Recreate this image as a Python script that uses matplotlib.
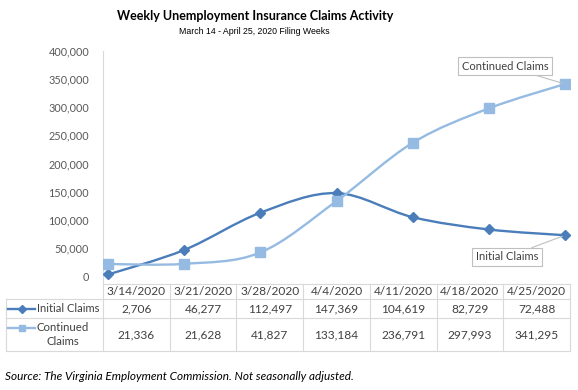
import numpy as np
import matplotlib
matplotlib.use("Agg")
import matplotlib.pyplot as plt
from matplotlib.path import Path
from matplotlib.patches import PathPatch
from matplotlib.lines import Line2D

# ── data ──────────────────────────────────────────────
weeks = ["3/14/2020", "3/21/2020", "3/28/2020", "4/4/2020",
         "4/11/2020", "4/18/2020", "4/25/2020"]
initial_claims = [2706, 46277, 112497, 147369, 104619, 82729, 72488]
continued_claims = [21336, 21628, 41827, 133184, 236791, 297993, 341295]
series_names = ["Initial Claims", "Continued Claims"]
row_labels = ["Initial Claims", "Continued\nClaims"]

C_INIT = "#4a7dba"
C_CONT = "#96bbe2"
GRID = "#d9d9d9"
TXT = "#404040"
FONT = "Lato"

W, H = 578, 390


def fx(x):
    return x / W


def fy(y):
    return 1 - y / H


def smooth_path(xs, ys):
    # bezier segments like Excel's smoothed line (catmull-rom control points)
    pts = np.column_stack([xs, ys]).astype(float)
    n = len(pts)
    verts = [pts[0]]
    codes = [Path.MOVETO]
    for i in range(n - 1):
        p0 = pts[i - 1] if i > 0 else pts[i]
        p1, p2 = pts[i], pts[i + 1]
        p3 = pts[i + 2] if i + 2 < n else pts[i + 1]
        c1 = p1 + (p2 - p0) / 6.0
        c2 = p2 - (p3 - p1) / 6.0
        verts += [c1, c2, p2]
        codes += [Path.CURVE4] * 3
    return Path(verts, codes)


fig = plt.figure(figsize=(W / 100, H / 100), dpi=100)
ax_l, ax_r, ax_t, ax_b = 103, 570, 51, 284
ax = fig.add_axes([fx(ax_l), fy(ax_b), fx(ax_r - ax_l), (ax_b - ax_t) / H])

x = np.arange(len(weeks))
for vals, col, mk, ms in [(initial_claims, C_INIT, "D", 5.5),
                          (continued_claims, C_CONT, "s", 6.5)]:
    ax.add_patch(PathPatch(smooth_path(x, vals), fill=False, edgecolor=col,
                           lw=1.7, capstyle="round", zorder=2))
    ax.plot(x, vals, ls="none", marker=mk, ms=ms, color=col, zorder=3)

ax.set_xlim(-0.066, 6.066)
ax.set_ylim(-14200, 400000)
ax.set_yticks(np.arange(0, 400001, 50000))
ax.set_yticklabels([f"{v:,}" for v in range(0, 400001, 50000)],
                   fontsize=7.8, color="#595959", family=FONT)
ax.tick_params(axis="y", length=0, pad=10)
ax.set_xticks([])
for s in ("top", "right"):
    ax.spines[s].set_visible(False)
ax.spines["left"].set_color(GRID)
ax.spines["bottom"].set_color(GRID)
ax.spines["left"].set_linewidth(0.8)
ax.spines["bottom"].set_linewidth(0.8)

# data labels with leader lines
bbox = dict(boxstyle="square,pad=0.3", fc="white", ec="#bfbfbf", lw=0.8)
ax.annotate(series_names[1], xy=(x[-1], continued_claims[-1]),
            xytext=(fx(505), fy(66)), textcoords="figure fraction",
            ha="center", va="center", fontsize=8, color=TXT, family=FONT,
            bbox=bbox, arrowprops=dict(arrowstyle="-", color="#bfbfbf", lw=0.8,
                                       shrinkA=0, shrinkB=2), zorder=4)
ax.annotate(series_names[0], xy=(x[-1], initial_claims[-1]),
            xytext=(fx(507), fy(257)), textcoords="figure fraction",
            ha="center", va="center", fontsize=8, color=TXT, family=FONT,
            bbox=bbox, arrowprops=dict(arrowstyle="-", color="#bfbfbf", lw=0.8,
                                       shrinkA=0, shrinkB=2), zorder=4)

# ── data table ────────────────────────────────────────
t_left, t_top, r1, r2, t_bot = 6, 284, 299, 318, 351
ncol = len(weeks)
edges = np.linspace(ax_l, ax_r, ncol + 1)
centers = (edges[:-1] + edges[1:]) / 2


def hline(y, x0, x1):
    fig.add_artist(Line2D([fx(x0), fx(x1)], [fy(y), fy(y)], color=GRID, lw=0.8))


def vline(xp, y0, y1):
    fig.add_artist(Line2D([fx(xp), fx(xp)], [fy(y0), fy(y1)], color=GRID, lw=0.8))


hline(r1, t_left, ax_r)
hline(r2, t_left, ax_r)
hline(t_bot, t_left, ax_r)
vline(t_left, r1, t_bot)
for e in edges:
    vline(e, t_top, t_bot)

tk = dict(ha="center", va="center", fontsize=8.6, color=TXT, family=FONT)
for c, wk, a, b in zip(centers, weeks, initial_claims, continued_claims):
    fig.text(fx(c), fy((t_top + r1) / 2), wk, **tk)
    fig.text(fx(c), fy((r1 + r2) / 2), f"{a:,}", **tk)
    fig.text(fx(c), fy((r2 + t_bot) / 2), f"{b:,}", **tk)

# legend keys inside the table
for yk, col, mk, ms in [((r1 + r2) / 2, C_INIT, "D", 4), (328, C_CONT, "s", 5)]:
    fig.add_artist(Line2D([fx(8), fx(35)], [fy(yk), fy(yk)], color=col, lw=1.7))
    fig.add_artist(Line2D([fx(21.5)], [fy(yk)], color=col, marker=mk, ms=ms,
                          ls="none"))
fig.text(fx(37), fy((r1 + r2) / 2), row_labels[0], ha="left", va="center",
         fontsize=8, color=TXT, family=FONT)
fig.text(fx(62.5), fy((r2 + t_bot) / 2), row_labels[1], ha="center", va="center",
         fontsize=8.2, color=TXT, family=FONT, linespacing=1.3)

# ── titles & source ───────────────────────────────────
fig.text(fx(255), fy(16), "Weekly Unemployment Insurance Claims Activity",
         ha="center", va="center", fontsize=9.0, fontweight="bold",
         color="black", family=FONT)
fig.text(fx(254), fy(32), "March 14 - April 25, 2020 Filing Weeks",
         ha="center", va="center", fontsize=6.3,
         family=["Liberation Sans Narrow", "Liberation Sans"], color="black")
fig.text(fx(5), fy(376), "Source: The Virginia Employment Commission. Not seasonally adjusted.",
         ha="left", va="center", fontsize=8.5, style="italic", family=FONT,
         color="black")

fig.savefig("out.png", dpi=100)
